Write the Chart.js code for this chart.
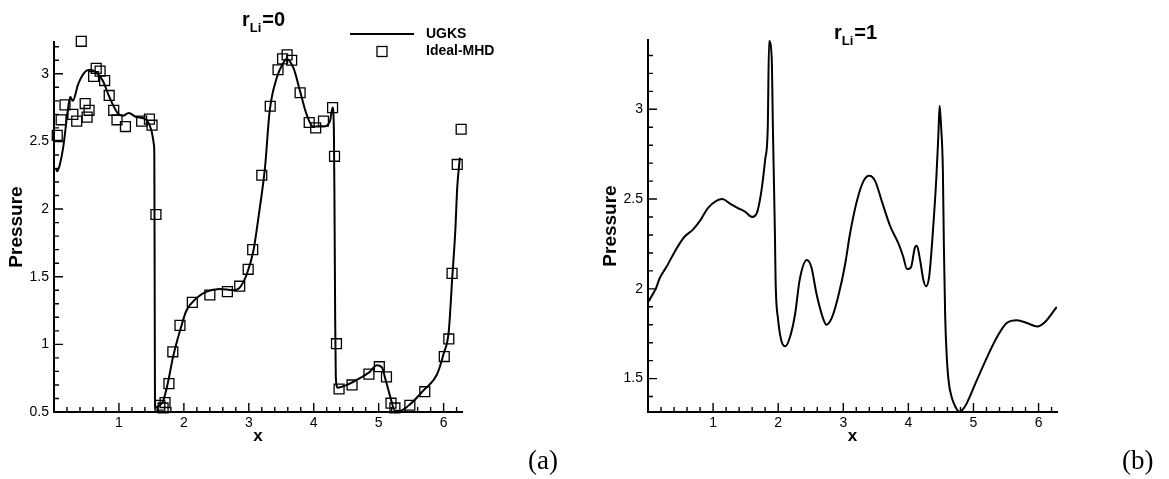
<!DOCTYPE html>
<html>
<head>
<meta charset="utf-8">
<script src="https://cdn.jsdelivr.net/npm/chart.js@4.4.0/dist/chart.umd.min.js"></script>
<style>
  html, body { margin: 0; padding: 0; background: #fff; }
  body { width: 1169px; height: 479px; position: relative; overflow: hidden; }
  canvas { position: absolute; top: 0; }
  #chartA { left: 0; }
  #chartB { left: 584px; }
  .panel-tag { position: absolute; font-family: 'Liberation Serif', serif; font-size: 27px; color: #000; line-height: 30px; }
</style>
</head>
<body>
<canvas id="chartA" width="584" height="479"></canvas>
<canvas id="chartB" width="585" height="479"></canvas>
<div class="panel-tag" style="left:528px; top:445px;">(a)</div>
<div class="panel-tag" style="left:1122px; top:445px;">(b)</div>
<script>
// r_Li = 0 : UGKS curve
const ugksX0 = [0.03, 0.05, 0.09, 0.14, 0.21, 0.25, 0.29, 0.37, 0.47, 0.55, 0.65, 0.75, 0.86, 0.98, 1.06, 1.15, 1.27, 1.42, 1.50, 1.54,
  1.545, 1.55, 1.555, 1.565, 1.60, 1.68, 1.76, 1.83, 1.94, 2.04, 2.19, 2.35, 2.55, 2.76, 2.86, 2.97, 3.07, 3.12, 3.17, 3.25,
  3.32, 3.43, 3.53, 3.58, 3.69, 3.79, 3.89, 3.99, 4.15, 4.25, 4.29, 4.31, 4.32, 4.33, 4.34, 4.37, 4.51, 4.71, 4.87, 4.97,
  5.05, 5.10, 5.18, 5.25, 5.33, 5.49, 5.69, 5.90, 6.00, 6.08, 6.13, 6.18, 6.21, 6.25];
const ugksP0 = [2.30, 2.28, 2.33, 2.45, 2.72, 2.83, 2.80, 2.92, 3.01, 3.03, 3.01, 2.95, 2.82, 2.71, 2.69, 2.71, 2.68, 2.66, 2.58, 2.47,
  2.40, 1.50, 0.60, 0.53, 0.54, 0.58, 0.73, 0.90, 1.10, 1.25, 1.34, 1.39, 1.41, 1.40, 1.42, 1.52, 1.69, 1.84, 2.01, 2.31,
  2.72, 2.97, 3.08, 3.11, 3.04, 2.87, 2.70, 2.61, 2.61, 2.65, 2.75, 2.60, 2.00, 1.20, 0.75, 0.68, 0.70, 0.75, 0.80, 0.845,
  0.83, 0.75, 0.61, 0.51, 0.51, 0.56, 0.66, 0.78, 0.93, 1.10, 1.47, 1.84, 2.16, 2.38];

// r_Li = 0 : Ideal-MHD reference (squares)
const mhdX0 = [0.05, 0.11, 0.17, 0.29, 0.35, 0.42, 0.48, 0.51, 0.54, 0.61, 0.65, 0.71, 0.78, 0.85, 0.92, 0.97, 1.10, 1.35, 1.47, 1.51,
  1.57, 1.63, 1.68, 1.71, 1.77, 1.83, 1.94, 2.13, 2.40, 2.67, 2.86, 2.99, 3.06, 3.20, 3.33, 3.45, 3.52, 3.59, 3.66, 3.79,
  3.93, 4.03, 4.15, 4.29, 4.32, 4.35, 4.39, 4.59, 4.85, 5.01, 5.12, 5.19, 5.25, 5.48, 5.71, 6.01, 6.08, 6.13, 6.21, 6.27];
const mhdP0 = [2.545, 2.66, 2.77, 2.70, 2.65, 3.24, 2.78, 2.68, 2.73, 2.98, 3.04, 3.02, 2.95, 2.84, 2.73, 2.66, 2.61, 2.65, 2.665, 2.62,
  1.96, 0.55, 0.53, 0.57, 0.71, 0.945, 1.14, 1.31, 1.365, 1.39, 1.43, 1.555, 1.70, 2.25, 2.76, 3.03, 3.11, 3.14, 3.10, 2.86,
  2.64, 2.60, 2.65, 2.75, 2.39, 1.005, 0.67, 0.70, 0.78, 0.835, 0.76, 0.565, 0.53, 0.55, 0.65, 0.91, 1.04, 1.525, 2.33, 2.59];

// r_Li = 1 : UGKS curve
const ugksX1 = [0.01, 0.13, 0.18, 0.28, 0.44, 0.56, 0.69, 0.80, 0.92, 1.05, 1.14, 1.26, 1.38, 1.49, 1.60, 1.67, 1.74, 1.80, 1.84, 1.86,
  1.90, 1.92, 1.95, 1.96, 2.00, 2.05, 2.11, 2.18, 2.26, 2.33, 2.44, 2.51, 2.59, 2.69, 2.74, 2.82, 2.92, 3.03, 3.10, 3.21,
  3.31, 3.40, 3.49, 3.59, 3.72, 3.85, 3.92, 3.98, 4.04, 4.10, 4.13, 4.18, 4.23, 4.27, 4.32, 4.375, 4.43, 4.46, 4.48, 4.50,
  4.53, 4.545, 4.565, 4.59, 4.62, 4.67, 4.72, 4.78, 4.84, 4.90, 5.05, 5.21, 5.36, 5.51, 5.67, 5.82, 5.98, 6.10, 6.28];
const ugksP1 = [1.93, 2.01, 2.06, 2.12, 2.225, 2.29, 2.33, 2.38, 2.45, 2.49, 2.50, 2.475, 2.45, 2.43, 2.40, 2.42, 2.54, 2.72, 2.90, 3.38,
  3.29, 2.87, 2.30, 2.05, 1.825, 1.71, 1.68, 1.73, 1.86, 2.05, 2.16, 2.12, 1.97, 1.835, 1.80, 1.835, 1.955, 2.14, 2.30, 2.49,
  2.60, 2.63, 2.60, 2.49, 2.35, 2.25, 2.18, 2.11, 2.12, 2.23, 2.24, 2.16, 2.05, 2.015, 2.07, 2.31, 2.62, 2.85, 3.02, 2.92,
  2.66, 2.25, 1.85, 1.62, 1.48, 1.39, 1.345, 1.315, 1.33, 1.365, 1.49, 1.62, 1.73, 1.81, 1.825, 1.81, 1.79, 1.815, 1.90];

const xTicks = [1, 2, 3, 4, 5, 6];
const pTicks0 = [0.5, 1, 1.5, 2, 2.5, 3];
const pTicks1 = [1.5, 2, 2.5, 3];

const toPoints = (xs, ys) => xs.map((x, i) => ({x: x, y: ys[i]}));

Chart.defaults.font.family = '"Liberation Sans", Arial, sans-serif';
Chart.defaults.color = '#000';

// tecplot style tick marks pointing into the plot
const insideTicks = {
  id: 'insideTicks',
  afterDatasetsDraw(chart, args, opts) {
    const {ctx, chartArea: area, scales} = chart;
    const marks = (scale, step, len, horizontal) => {
      const first = Math.ceil(scale.min / step - 1e-6);
      for (let k = first; k * step <= scale.max + 1e-9; k++) {
        const p = scale.getPixelForValue(k * step);
        if (horizontal) {
          ctx.moveTo(p, area.bottom);
          ctx.lineTo(p, area.bottom - len);
        } else {
          ctx.moveTo(area.left, p);
          ctx.lineTo(area.left + len, p);
        }
      }
    };
    ctx.save();
    ctx.strokeStyle = '#000';
    ctx.lineWidth = 1.4;
    ctx.beginPath();
    marks(scales.x, opts.xMinor, 5, true);
    marks(scales.x, opts.xMajor, 9, true);
    marks(scales.y, opts.yMinor, 5, false);
    marks(scales.y, opts.yMajor, 9, false);
    ctx.stroke();
    ctx.restore();
  }
};

// title with subscript, e.g. r_Li=0
const panelTitle = {
  id: 'panelTitle',
  afterDraw(chart, args, opts) {
    const ctx = chart.ctx;
    let x = opts.x;
    ctx.save();
    ctx.fillStyle = '#000';
    ctx.textBaseline = 'alphabetic';
    ctx.textAlign = 'left';
    ctx.font = 'bold 20px "Liberation Sans"';
    ctx.fillText('r', x, opts.y);
    x += ctx.measureText('r').width;
    ctx.font = 'bold 13px "Liberation Sans"';
    ctx.fillText('Li', x, opts.y + 6);
    x += ctx.measureText('Li').width + 1;
    ctx.font = 'bold 20px "Liberation Sans"';
    ctx.fillText(opts.tail, x, opts.y);
    ctx.restore();
  }
};

const legendBox = {
  id: 'legendBox',
  afterDraw(chart, args, opts) {
    if (!opts.show) return;
    const ctx = chart.ctx;
    ctx.save();
    ctx.strokeStyle = '#000';
    ctx.lineWidth = 2;
    ctx.beginPath();
    ctx.moveTo(350, 34);
    ctx.lineTo(414, 34);
    ctx.stroke();
    ctx.lineWidth = 1.3;
    ctx.strokeRect(377, 46.5, 10, 10);
    ctx.fillStyle = '#000';
    ctx.font = 'bold 14px "Liberation Sans"';
    ctx.textBaseline = 'middle';
    ctx.fillText('UGKS', 426, 34);
    ctx.fillText('Ideal-MHD', 426, 51);
    ctx.restore();
  }
};

function makePanel(canvasId, panel) {
  const datasets = [{
    data: toPoints(panel.lineX, panel.lineY),
    borderColor: '#000',
    borderWidth: 2,
    pointRadius: 0,
    fill: false,
    cubicInterpolationMode: 'monotone'
  }];
  if (panel.markX) {
    datasets.push({
      data: toPoints(panel.markX, panel.markY),
      showLine: false,
      pointStyle: 'rect',
      pointRadius: 7,
      pointBorderWidth: 1.3,
      pointBorderColor: '#000',
      pointBackgroundColor: 'rgba(0,0,0,0)',
      clip: false
    });
  }
  return new Chart(document.getElementById(canvasId), {
    type: 'line',
    data: {datasets: datasets},
    options: {
      responsive: false,
      animation: false,
      events: [],
      layout: {padding: panel.padding},
      plugins: {
        legend: {display: false},
        tooltip: {enabled: false},
        insideTicks: {xMinor: 0.2, xMajor: 1, yMinor: 0.1, yMajor: 0.5},
        panelTitle: panel.title,
        legendBox: {show: !!panel.markX}
      },
      scales: {
        x: {
          type: 'linear',
          min: 0,
          max: 2 * Math.PI,
          afterBuildTicks: (scale) => { scale.ticks = xTicks.map(v => ({value: v})); },
          afterFit: (scale) => { scale.height = 40; },
          grid: {display: false, drawTicks: false},
          border: {display: true, color: '#000', width: 2},
          ticks: {padding: 3, font: {size: 14}, maxRotation: 0, callback: v => String(v)},
          title: {display: true, text: 'x', font: {size: 17, weight: 'bold'}, padding: {top: 0, bottom: 5}}
        },
        y: {
          type: 'linear',
          min: panel.yMin,
          max: panel.yMax,
          afterBuildTicks: (scale) => { scale.ticks = panel.yTicks.map(v => ({value: v})); },
          afterFit: (scale) => { scale.width = panel.yWidth; },
          grid: {display: false, drawTicks: false},
          border: {display: true, color: '#000', width: 2},
          ticks: {padding: 5, font: {size: 14}, callback: v => String(v)},
          title: {display: true, text: 'Pressure', font: {size: 19, weight: 'bold'}, padding: {top: panel.titlePad, bottom: 0}}
        }
      }
    },
    plugins: [insideTicks, panelTitle, legendBox]
  });
}

makePanel('chartA', {
  lineX: ugksX0, lineY: ugksP0, markX: mhdX0, markY: mhdP0,
  yMin: 0.5, yMax: 3.235, yTicks: pTicks0, yWidth: 54, titlePad: 5,
  padding: {top: 42, right: 122, bottom: 27, left: 0},
  title: {x: 242, y: 26, tail: '=0'}
});

makePanel('chartB', {
  lineX: ugksX1, lineY: ugksP1,
  yMin: 1.314, yMax: 3.386, yTicks: pTicks1, yWidth: 64, titlePad: 15,
  padding: {top: 40, right: 112, bottom: 27, left: 0},
  title: {x: 250, y: 39, tail: '=1'}
});
</script>
</body>
</html>
